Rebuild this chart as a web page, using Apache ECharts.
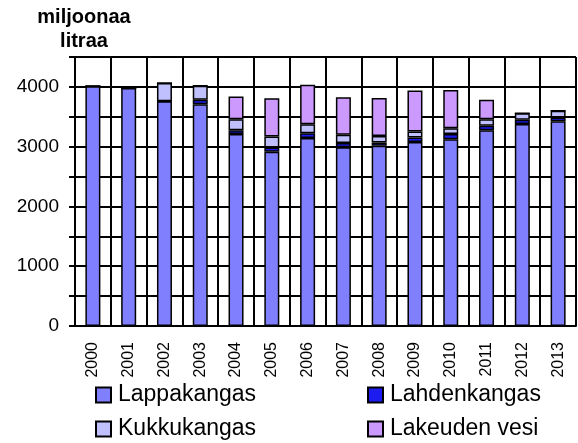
<!DOCTYPE html>
<html><head><meta charset="utf-8">
<script src="https://cdn.jsdelivr.net/npm/echarts@6/dist/echarts.min.js"></script>
<style>html,body{margin:0;padding:0;background:#fff}#c{width:578px;height:443px}</style>
</head><body><div id="c"></div>
<script>
const years = ['2000','2001','2002','2003','2004','2005','2006','2007','2008','2009','2010','2011','2012','2013'];
const lappakangas = [4010,3980,3760,3710,3210,2915,3145,2990,3015,3080,3125,3275,3380,3425];
const lahdenkangas = [0,0,0,75,65,70,80,70,55,75,85,75,70,65];
const kukkukangas = [0,0,305,235,185,185,150,140,110,100,100,110,110,110];
const lakeudenVesi = [0,0,0,0,380,640,660,625,635,685,640,325,0,0];
const yTicks = [0,1000,2000,3000,4000];

const chart = echarts.init(document.getElementById('c'));
const font = 'Liberation Sans, Arial, sans-serif';
const mk = (name, data, color) => ({
  name, type:'bar', stack:'s', data, barWidth:15,
  itemStyle:{color, borderColor:'#000', borderWidth:1.5}
});
const legendItem = (name, left, top) => ({
  data:[name], left, top, padding:0, itemWidth:15, itemHeight:15, icon:'rect',
  textStyle:{fontFamily:font, fontSize:23, lineHeight:26, color:'#000', padding:[0,0,0,2]}, selectedMode:false
});
chart.setOption({
  animation:false,
  graphic:[
    {type:'text', x:84, y:7, style:{text:'miljoonaa', fontFamily:font, fontSize:20, fontWeight:'bold', fill:'#000', align:'center', verticalAlign:'top'}},
    {type:'text', x:84, y:31, style:{text:'litraa', fontFamily:font, fontSize:20, fontWeight:'bold', fill:'#000', align:'center', verticalAlign:'top'}}
  ],
  grid:{left:75, right:2, top:57, bottom:117},
  legend:[legendItem('Lappakangas',95,382), legendItem('Lahdenkangas',367,382),
          legendItem('Kukkukangas',95,416), legendItem('Lakeuden vesi',367,416)],
  xAxis:{type:'category', data:years,
    axisLine:{lineStyle:{color:'#000', width:2}},
    axisTick:{show:false},
    splitLine:{show:true, interval:0, lineStyle:{color:'#000', width:2}},
    axisLabel:{rotate:90, fontFamily:font, fontSize:16, color:'#000', margin:16, interval:0}},
  yAxis:{type:'value', min:0, max:4500, interval:500,
    axisLine:{show:true, lineStyle:{color:'#000', width:2}},
    axisTick:{show:true, length:6, lineStyle:{color:'#000', width:2}},
    splitLine:{show:true, lineStyle:{color:'#000', width:2}},
    axisLabel:{fontFamily:font, fontSize:19, color:'#000', margin:16,
      formatter:v => yTicks.includes(v) ? String(v) : ''}},
  series:[
    mk('Lappakangas', lappakangas, '#8080ff'),
    mk('Lahdenkangas', lahdenkangas, '#1c1cf0'),
    mk('Kukkukangas', kukkukangas, '#c0c0ff'),
    mk('Lakeuden vesi', lakeudenVesi, '#cc99ff')
  ]
});
</script></body></html>
